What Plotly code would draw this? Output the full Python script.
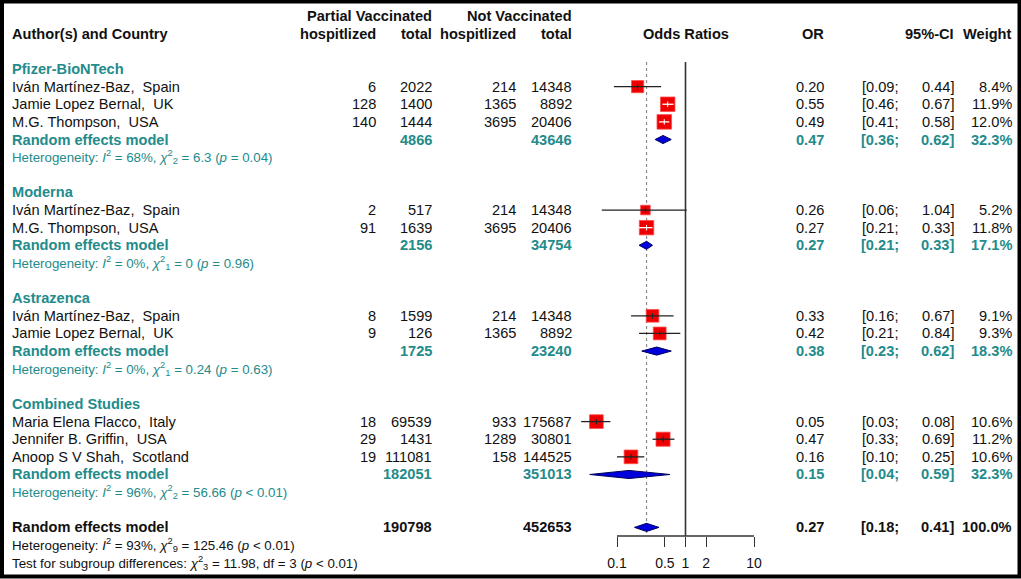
import numpy as np
import plotly.graph_objects as go

# ---- data ----
groups = ["Pfizer-BioNTech", "Moderna", "Astrazenca", "Combined Studies"]
study_group = [0, 0, 0, 1, 1, 2, 2, 3, 3, 3]
authors = ["Iván Martínez-Baz", "Jamie Lopez Bernal", "M.G. Thompson",
           "Iván Martínez-Baz", "M.G. Thompson",
           "Iván Martínez-Baz", "Jamie Lopez Bernal",
           "Maria Elena Flacco", "Jennifer B. Griffin", "Anoop S V Shah"]
countries = ["Spain", "UK", "USA", "Spain", "USA", "Spain", "UK",
             "Italy", "USA", "Scotland"]
pv_hosp = [6, 128, 140, 2, 91, 8, 9, 18, 29, 19]
pv_total = [2022, 1400, 1444, 517, 1639, 1599, 126, 69539, 1431, 111081]
nv_hosp = [214, 1365, 3695, 214, 3695, 214, 1365, 933, 1289, 158]
nv_total = [14348, 8892, 20406, 14348, 20406, 14348, 8892, 175687, 30801, 144525]
study_or = [0.20, 0.55, 0.49, 0.26, 0.27, 0.33, 0.42, 0.05, 0.47, 0.16]
study_lo = [0.09, 0.46, 0.41, 0.06, 0.21, 0.16, 0.21, 0.03, 0.33, 0.10]
study_hi = [0.44, 0.67, 0.58, 1.04, 0.33, 0.67, 0.84, 0.08, 0.69, 0.25]
study_w = [8.4, 11.9, 12.0, 5.2, 11.8, 9.1, 9.3, 10.6, 11.2, 10.6]

grp_pv_total = [4866, 2156, 1725, 182051]
grp_nv_total = [43646, 34754, 23240, 351013]
grp_or = [0.47, 0.27, 0.38, 0.15]
grp_lo = [0.36, 0.21, 0.23, 0.04]
grp_hi = [0.62, 0.33, 0.62, 0.59]
grp_w = [32.3, 17.1, 18.3, 32.3]
grp_i2 = ["68%", "0%", "0%", "96%"]
grp_df = [2, 1, 1, 2]
grp_q = ["6.3", "0", "0.24", "56.66"]
grp_p = ["= 0.04", "= 0.96", "= 0.63", "&lt; 0.01"]

tot_pv_total = 190798
tot_nv_total = 452653
tot_or, tot_lo, tot_hi, tot_w = 0.27, 0.18, 0.41, 100.0
tot_i2, tot_df, tot_q, tot_p = "93%", 9, "125.46", "&lt; 0.01"
sub_df, sub_q, sub_p = 3, "11.98", "&lt; 0.01"

tick_vals = [0.1, 0.5, 1, 2, 10]
tick_text = ["0.1", "0.5", "1", "2", "10"]

# ---- layout constants (pixels) ----
W, H = 1021, 579
ROW0, ROWH = 69, 17.63          # pixel y of first row, row pitch
X1_PX, DEC_PX = 685.5, 68.5     # pixel x of OR=1, pixels per decade
AXIS_PX = 536
FONT = "Liberation Sans, Arial, sans-serif"
FS, FS_HET = 14.6, 13.3
BLACK = "#111111"
TEAL = "#238b8b"

# row positions
study_row = [0] * len(authors)
grp_row, grp_re_row, grp_het_row = [], [], []
r = 0
for g in range(len(groups)):
    grp_row.append(r)
    r += 1
    for i, sg in enumerate(study_group):
        if sg == g:
            study_row[i] = r
            r += 1
    grp_re_row.append(r)
    grp_het_row.append(r + 1)
    r += 3
tot_row, tot_het_row, test_row = r, r + 1, r + 2
axis_row = (AXIS_PX - ROW0) / ROWH

ann = []


def txt(x_px, row, s, anchor="right", color=BLACK, bold=False, size=FS):
    ann.append(dict(x=x_px / W, xref="paper", y=row, yref="y",
                    text=f"<b>{s}</b>" if bold else s,
                    xanchor=anchor, yanchor="middle", showarrow=False,
                    font=dict(family=FONT, size=size, color=color)))


def het(i2, df, q, p):
    return (f"Heterogeneity: <i>I</i><sup>2</sup> = {i2}, "
            f"<i>χ</i><sup>2</sup><sub>{df}</sub> = {q} (<i>p</i> {p})")


# column right edges
C_LAB, C_PVH, C_PVT, C_NVH, C_NVT = 10, 378, 434, 518, 574
C_OR, C_LO, C_HI, C_W = 826, 901, 956, 1014

# headers
txt(C_PVT, -3, "Partial Vaccinated", bold=True)
txt(C_NVT, -3, "Not Vaccinated", bold=True)
txt(C_LAB, -2, "Author(s) and Country", anchor="left", bold=True)
txt(C_PVH, -2, "hospitlized", bold=True)
txt(C_PVT, -2, "total", bold=True)
txt(C_NVH, -2, "hospitlized", bold=True)
txt(C_NVT, -2, "total", bold=True)
txt(X1_PX, -2, "Odds Ratios", anchor="center", bold=True)
txt(C_OR, -2, "OR", bold=True)
txt(C_HI, -2, "95%-CI", bold=True)
txt(C_W, -2, "Weight", bold=True)


def stats(row, o, lo, hi, w, color=BLACK, bold=False):
    txt(C_OR, row, f"{o:.2f}", color=color, bold=bold)
    txt(C_LO, row, f"[{lo:.2f};", color=color, bold=bold)
    txt(C_HI, row, f"{hi:.2f}]", color=color, bold=bold)
    txt(C_W, row, f"{w:.1f}%", color=color, bold=bold)


for i in range(len(authors)):
    rr = study_row[i]
    txt(C_LAB, rr, f"{authors[i]},\u00a0 {countries[i]}", anchor="left")
    txt(C_PVH, rr, str(pv_hosp[i]))
    txt(C_PVT, rr, str(pv_total[i]))
    txt(C_NVH, rr, str(nv_hosp[i]))
    txt(C_NVT, rr, str(nv_total[i]))
    stats(rr, study_or[i], study_lo[i], study_hi[i], study_w[i])

for g in range(len(groups)):
    txt(C_LAB, grp_row[g], groups[g], anchor="left", color=TEAL, bold=True)
    rr = grp_re_row[g]
    txt(C_LAB, rr, "Random effects model", anchor="left", color=TEAL, bold=True)
    txt(C_PVT, rr, str(grp_pv_total[g]), color=TEAL, bold=True)
    txt(C_NVT, rr, str(grp_nv_total[g]), color=TEAL, bold=True)
    stats(rr, grp_or[g], grp_lo[g], grp_hi[g], grp_w[g], color=TEAL, bold=True)
    txt(C_LAB, grp_het_row[g], het(grp_i2[g], grp_df[g], grp_q[g], grp_p[g]),
        anchor="left", color=TEAL, size=FS_HET)

txt(C_LAB, tot_row, "Random effects model", anchor="left", bold=True)
txt(C_PVT, tot_row, str(tot_pv_total), bold=True)
txt(C_NVT, tot_row, str(tot_nv_total), bold=True)
stats(tot_row, tot_or, tot_lo, tot_hi, tot_w, bold=True)
txt(C_LAB, tot_het_row, het(tot_i2, tot_df, tot_q, tot_p), anchor="left", size=FS_HET)
txt(C_LAB, test_row,
    f"Test for subgroup differences: <i>χ</i><sup>2</sup><sub>{sub_df}</sub> = {sub_q}, "
    f"df = {sub_df} (<i>p</i> {sub_p})", anchor="left", size=FS_HET)

# ---- forest marks ----
fig = go.Figure()

# reference lines
fig.add_trace(go.Scatter(x=[tot_or, tot_or], y=[-0.4, 26.35], mode="lines",
                         line=dict(color="#8a8a8a", width=1.2, dash="dot"),
                         hoverinfo="skip"))
fig.add_trace(go.Scatter(x=[1, 1], y=[-0.4, axis_row], mode="lines",
                         line=dict(color="#333333", width=1.6), hoverinfo="skip"))
fig.add_trace(go.Scatter(x=[tick_vals[0], tick_vals[-1]], y=[axis_row, axis_row],
                         mode="lines", line=dict(color="#333333", width=1.3),
                         hoverinfo="skip"))

# study squares
sizes = 4.2 * np.sqrt(np.array(study_w))
fig.add_trace(go.Scatter(x=study_or, y=study_row, mode="markers",
                         marker=dict(symbol="square", size=sizes, color="#ee0000",
                                     opacity=1,
                                     line=dict(color="#ff4a4a", width=0.8)),
                         hoverinfo="skip"))

# confidence intervals (white when the interval fits inside the box)
for c in ["#222222", "white"]:
    idx = []
    for i in range(len(authors)):
        left = DEC_PX * (np.log10(study_or[i]) - np.log10(study_lo[i]))
        right = DEC_PX * (np.log10(study_hi[i]) - np.log10(study_or[i]))
        inside = max(left, right) <= sizes[i] / 2 + 0.6
        if inside == (c == "white"):
            idx.append(i)
    lx, ly = [], []
    for i in idx:
        lx += [study_lo[i], study_hi[i], None]
        ly += [study_row[i], study_row[i], None]
    fig.add_trace(go.Scatter(x=lx, y=ly, mode="lines",
                             line=dict(color=c, width=1.3), hoverinfo="skip"))
    fig.add_trace(go.Scatter(x=[study_or[i] for i in idx], y=[study_row[i] for i in idx],
                             mode="markers",
                             marker=dict(symbol="line-ns", size=4,
                                         line=dict(color=c, width=1)),
                             hoverinfo="skip"))

# pooled diamonds
dh = 0.23
dx, dy = [], []
for o, lo, hi, rr in zip(grp_or + [tot_or], grp_lo + [tot_lo], grp_hi + [tot_hi],
                         grp_re_row + [tot_row]):
    dx += [lo, o, hi, o, lo, None]
    dy += [rr, rr - dh, rr, rr + dh, rr, None]
fig.add_trace(go.Scatter(x=dx, y=dy, mode="lines", fill="toself",
                         fillcolor="#0000dd", line=dict(color="#00005a", width=1),
                         hoverinfo="skip"))

fig.update_layout(
    width=W, height=H, margin=dict(l=0, r=0, t=0, b=0, pad=0),
    paper_bgcolor="white", plot_bgcolor="rgba(0,0,0,0)", showlegend=False,
    annotations=ann,
    xaxis=dict(type="log", domain=[560 / W, 820 / W],
               range=[(560 - X1_PX) / DEC_PX, (820 - X1_PX) / DEC_PX],
               anchor="free", position=1 - AXIS_PX / H,
               tickvals=tick_vals, ticktext=tick_text, ticks="outside",
               ticklen=10, tickwidth=1.3, tickcolor="#333333",
               ticklabelstandoff=4,
               tickfont=dict(family=FONT, size=14, color=BLACK),
               showline=False, showgrid=False, zeroline=False),
    yaxis=dict(domain=[0, 1], range=[(H - ROW0) / ROWH, -ROW0 / ROWH],
               visible=False, showgrid=False, zeroline=False),
    shapes=[dict(type="rect", xref="paper", yref="paper",
                 x0=2 / W, x1=1 - 1.5 / W, y0=1 - 576.5 / H, y1=1 - 1.5 / H,
                 line=dict(color="black", width=4))],
)

fig.write_html("out.html", config={"displayModeBar": False},
               post_script="document.body.style.margin='0';"
                           "document.body.style.overflow='hidden';")
